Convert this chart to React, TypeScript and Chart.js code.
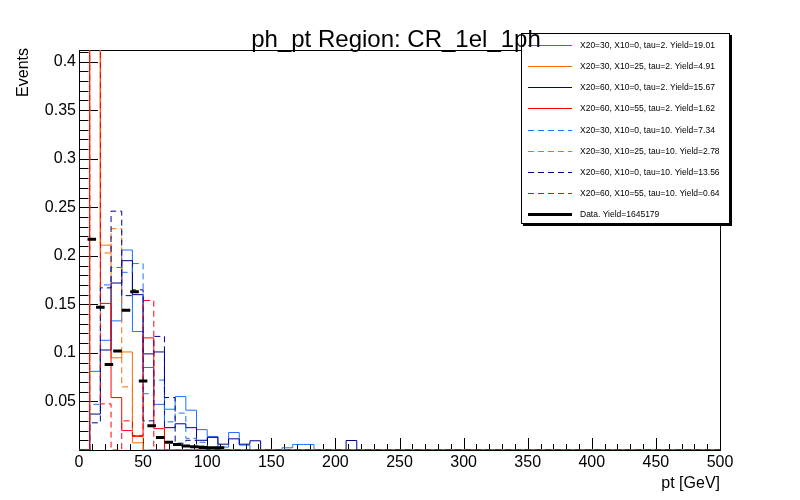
import React, { useEffect, useRef } from "react";
import { Chart, registerables } from "chart.js";

Chart.register(...registerables);

// ---------- data ----------
const X_MIN = 0;
const X_MAX = 500;
const MC_BINS = 60;
const DATA_BINS = 75;
const Y_MAX = 0.412;

const seriesLabels = [
  "X20=30, X10=0, tau=2. Yield=19.01",
  "X20=30, X10=25, tau=2. Yield=4.91",
  "X20=60, X10=0, tau=2. Yield=15.67",
  "X20=60, X10=55, tau=2. Yield=1.62",
  "X20=30, X10=0, tau=10. Yield=7.34",
  "X20=30, X10=25, tau=10. Yield=2.78",
  "X20=60, X10=0, tau=10. Yield=13.56",
  "X20=60, X10=55, tau=10. Yield=0.64",
  "Data. Yield=1645179",
];

const blueSolid = [
  0, 0.081, 0.113, 0.133, 0.206, 0.122, 0.085, 0.047, 0.042, 0.055,
  0.041, 0.021, 0.014, 0.003, 0.018, 0.005, 0, 0, 0, 0.0023,
  0.0057, 0.0057, 0, 0, 0, 0, 0, 0, 0, 0,
  0, 0, 0, 0, 0, 0, 0, 0, 0, 0,
  0, 0, 0, 0, 0, 0, 0, 0, 0, 0,
  0, 0, 0, 0, 0, 0, 0, 0, 0, 0,
];
const orangeSolid = [
  0, 0.58, 0.211, 0.095, 0.101, 0.0074, 0, 0, 0, 0,
  0, 0, 0, 0, 0, 0, 0, 0, 0, 0,
  0, 0, 0, 0, 0, 0, 0, 0, 0, 0,
  0, 0, 0, 0, 0, 0, 0, 0, 0, 0,
  0, 0, 0, 0, 0, 0, 0, 0, 0, 0,
  0, 0, 0, 0, 0, 0, 0, 0, 0, 0,
];
const navySolid = [
  0, 0.037, 0.103, 0.172, 0.195, 0.16, 0.099, 0.101, 0.023, 0.027,
  0.023, 0.01, 0.013, 0.006, 0.0115, 0.006, 0.0095, 0, 0, 0,
  0, 0, 0, 0, 0, 0.0098, 0, 0, 0, 0,
  0, 0, 0, 0, 0, 0, 0, 0, 0, 0,
  0, 0, 0, 0, 0, 0, 0, 0, 0, 0,
  0, 0, 0, 0, 0, 0, 0, 0, 0, 0,
];
const redSolid = [
  0, 0.62, 0.151, 0.054, 0.02, 0.014, 0.1155, 0.022, 0, 0,
  0, 0, 0, 0, 0, 0, 0, 0, 0, 0,
  0, 0, 0, 0, 0, 0, 0, 0, 0, 0,
  0, 0, 0, 0, 0, 0, 0, 0, 0, 0,
  0, 0, 0, 0, 0, 0, 0, 0, 0, 0,
  0, 0, 0, 0, 0, 0, 0, 0, 0, 0,
];
const blueDashed = [
  0, 0.047, 0.17, 0.188, 0.183, 0.192, 0.058, 0.072, 0.029, 0.038,
  0.012, 0.008, 0, 0, 0, 0, 0, 0, 0, 0,
  0, 0, 0, 0, 0, 0, 0, 0, 0, 0,
  0, 0, 0, 0, 0, 0, 0, 0, 0, 0,
  0, 0, 0, 0, 0, 0, 0, 0, 0, 0,
  0, 0, 0, 0, 0, 0, 0, 0, 0, 0,
];
const orangeDashed = [
  0, 0.49, 0.203, 0.228, 0.065, 0.015, 0, 0, 0, 0,
  0, 0, 0, 0, 0, 0, 0, 0, 0, 0,
  0, 0, 0, 0, 0, 0, 0, 0, 0, 0,
  0, 0, 0, 0, 0, 0, 0, 0, 0, 0,
  0, 0, 0, 0, 0, 0, 0, 0, 0, 0,
  0, 0, 0, 0, 0, 0, 0, 0, 0, 0,
];
const navyDashed = [
  0, 0.028, 0.167, 0.246, 0.159, 0.165, 0.03, 0.117, 0.054, 0.007,
  0.01, 0.004, 0, 0, 0, 0, 0, 0, 0, 0,
  0, 0, 0, 0, 0, 0, 0, 0, 0, 0,
  0, 0, 0, 0, 0, 0, 0, 0, 0, 0,
  0, 0, 0, 0, 0, 0, 0, 0, 0, 0,
  0, 0, 0, 0, 0, 0, 0, 0, 0, 0,
];
const redDashed = [
  0, 0.75, 0.0475, 0, 0.03, 0.015, 0.154, 0, 0, 0,
  0, 0, 0, 0, 0, 0, 0, 0, 0, 0,
  0, 0, 0, 0, 0, 0, 0, 0, 0, 0,
  0, 0, 0, 0, 0, 0, 0, 0, 0, 0,
  0, 0, 0, 0, 0, 0, 0, 0, 0, 0,
  0, 0, 0, 0, 0, 0, 0, 0, 0, 0,
];
const dataValues = [
  0, 0.217, 0.147, 0.088, 0.102, 0.144, 0.163, 0.071, 0.025, 0.013,
  0.008, 0.0057, 0.004, 0.0033, 0.0025, 0.0024, 0.0022, 0, 0, 0,
  0, 0, 0, 0, 0, 0, 0, 0, 0, 0,
  0, 0, 0, 0, 0, 0, 0, 0, 0, 0,
  0, 0, 0, 0, 0, 0, 0, 0, 0, 0,
  0, 0, 0, 0, 0, 0, 0, 0, 0, 0,
  0, 0, 0, 0, 0, 0, 0, 0, 0, 0,
  0, 0, 0, 0, 0,
];

const xTickStep = 50;
const yTickStep = 0.05;
const titleText = "ph_pt Region: CR_1el_1ph";
const xTitle = "pt [GeV]";
const yTitle = "Events";

// ---------- styles ----------
const FONT = '"Liberation Sans", Arial, Helvetica, sans-serif';
const BLUE = "#1a73ff";
const ORANGE = "#ff6a00";
const NAVY = "#00008f";
const RED = "#ff0000";
const DASH = [6, 4];

function histPoints(values: number[], nb: number) {
  const w = (X_MAX - X_MIN) / nb;
  const pts = values.map((v, i) => ({ x: X_MIN + i * w, y: v }));
  pts.push({ x: X_MAX, y: values[values.length - 1] });
  return pts;
}

function dataPoints(values: number[], nb: number) {
  const w = (X_MAX - X_MIN) / nb;
  const pts: { x: number; y: number | null }[] = [];
  values.forEach((v, i) => {
    if (v > 0) {
      pts.push({ x: X_MIN + i * w, y: v });
      pts.push({ x: X_MIN + (i + 1) * w, y: v });
      pts.push({ x: X_MIN + (i + 1) * w, y: null });
    }
  });
  return pts;
}

const mcSeries = [
  { values: blueSolid, color: BLUE, dash: [] as number[] },
  { values: orangeSolid, color: ORANGE, dash: [] as number[] },
  { values: navySolid, color: NAVY, dash: [] as number[] },
  { values: redSolid, color: RED, dash: [] as number[] },
  { values: blueDashed, color: BLUE, dash: DASH },
  { values: orangeDashed, color: ORANGE, dash: DASH },
  { values: navyDashed, color: NAVY, dash: DASH },
  { values: redDashed, color: RED, dash: DASH },
];

const rootPlugin = {
  id: "rootStyle",
  beforeDatasetsDraw(chart: any) {
    const { ctx, chartArea: a, scales } = chart;
    const xs = scales.x;
    const ys = scales.y;
    ctx.save();
    ctx.strokeStyle = "#000";
    ctx.lineWidth = 1;
    ctx.setLineDash([]);
    ctx.strokeRect(Math.round(a.left) + 0.5, Math.round(a.top) + 0.5, Math.round(a.right - a.left), Math.round(a.bottom - a.top));
    ctx.beginPath();
    for (let k = 0; k <= 41; k++) {
      const y = Math.round(ys.getPixelForValue(k / 100)) + 0.5;
      const len = k % 5 === 0 ? 19 : 9.5;
      ctx.moveTo(a.left, y);
      ctx.lineTo(a.left + len, y);
    }
    for (let k = 0; k <= 50; k++) {
      const x = Math.round(xs.getPixelForValue(k * 10)) + 0.5;
      const len = k % 5 === 0 ? 12 : 6;
      ctx.moveTo(x, a.bottom);
      ctx.lineTo(x, a.bottom - len);
    }
    ctx.stroke();
    ctx.restore();
  },
  afterDraw(chart: any) {
    const { ctx, chartArea: a } = chart;
    ctx.save();

    // legend
    const lx = 521, ly = 33, lw = 208, lh = 190;
    ctx.fillStyle = "#000";
    ctx.fillRect(lx + 2, ly + 2, lw + 1, lh + 1);
    ctx.fillStyle = "#fff";
    ctx.fillRect(lx, ly, lw, lh);
    ctx.strokeStyle = "#000";
    ctx.lineWidth = 1;
    ctx.strokeRect(lx + 0.5, ly + 0.5, lw, lh);
    const ds = chart.data.datasets;
    ctx.font = `8.5px ${FONT}`;
    ctx.textAlign = "left";
    ctx.textBaseline = "middle";
    for (let k = 0; k < seriesLabels.length; k++) {
      const y = Math.round(45 + 21.15 * k) + 0.5;
      const d = ds[k];
      ctx.beginPath();
      ctx.strokeStyle = d.borderColor;
      ctx.lineWidth = d.borderWidth;
      ctx.setLineDash(d.borderDash || []);
      ctx.moveTo(528, y);
      ctx.lineTo(572, y);
      ctx.stroke();
      ctx.setLineDash([]);
      ctx.fillStyle = "#000";
      ctx.fillText(seriesLabels[k], 580, y);
    }

    ctx.fillStyle = "#000";
    // title (drawn on top)
    ctx.font = `24px ${FONT}`;
    ctx.textAlign = "center";
    ctx.textBaseline = "alphabetic";
    ctx.fillText(titleText, 396, 47);
    // x title
    ctx.font = `16px ${FONT}`;
    ctx.textAlign = "right";
    ctx.fillText(xTitle, a.right, 488);
    // y title
    ctx.save();
    ctx.translate(28, 48);
    ctx.rotate(-Math.PI / 2);
    ctx.textAlign = "right";
    ctx.fillText(yTitle, 0, 0);
    ctx.restore();

    ctx.restore();
  },
};

export default function App() {
  const ref = useRef<HTMLCanvasElement>(null);
  useEffect(() => {
    if (!ref.current) return;
    const datasets: any[] = mcSeries.map((s, k) => ({
      label: seriesLabels[k],
      data: histPoints(s.values, MC_BINS),
      borderColor: s.color,
      borderWidth: 1,
      borderDash: s.dash,
      stepped: "before",
      pointRadius: 0,
      fill: false,
      order: 8 - k,
    }));
    datasets.push({
      label: seriesLabels[8],
      data: dataPoints(dataValues, DATA_BINS),
      borderColor: "#000",
      borderWidth: 3,
      borderDash: [],
      borderCapStyle: "butt",
      pointRadius: 0,
      spanGaps: false,
      fill: false,
      order: 0,
    });
    const chart = new Chart(ref.current, {
      type: "line",
      data: { datasets },
      plugins: [rootPlugin],
      options: {
        animation: false,
        responsive: false,
        maintainAspectRatio: false,
        devicePixelRatio: 1,
        layout: { padding: { top: 50, right: 80, left: 0, bottom: 0 } },
        plugins: {
          legend: { display: false },
          title: { display: false },
          tooltip: { enabled: false },
        },
        elements: { line: { tension: 0 } },
        scales: {
          x: {
            type: "linear",
            min: X_MIN,
            max: X_MAX,
            grid: { display: false, drawTicks: false },
            border: { display: false },
            ticks: {
              stepSize: xTickStep,
              includeBounds: false,
              autoSkip: false,
              maxRotation: 0,
              padding: 3,
              color: "#000",
              font: { family: FONT, size: 16 },
            },
            afterFit: (s: any) => {
              s.height = 50;
            },
          },
          y: {
            type: "linear",
            min: 0,
            max: Y_MAX,
            grid: { display: false, drawTicks: false },
            border: { display: false },
            ticks: {
              stepSize: yTickStep,
              includeBounds: false,
              autoSkip: false,
              padding: 3,
              color: "#000",
              font: { family: FONT, size: 16 },
              callback: (v: any) => (Number(v) === 0 ? "" : String(Math.round(Number(v) * 100) / 100)),
            },
            afterFit: (s: any) => {
              s.width = 79;
            },
          },
        },
      } as any,
    });
    return () => chart.destroy();
  }, []);
  return (
    <div style={{ position: "fixed", left: 0, top: 0, width: 800, height: 500, background: "#fff" }}>
      <canvas ref={ref} width={800} height={500} style={{ width: 800, height: 500, display: "block" }} />
    </div>
  );
}
